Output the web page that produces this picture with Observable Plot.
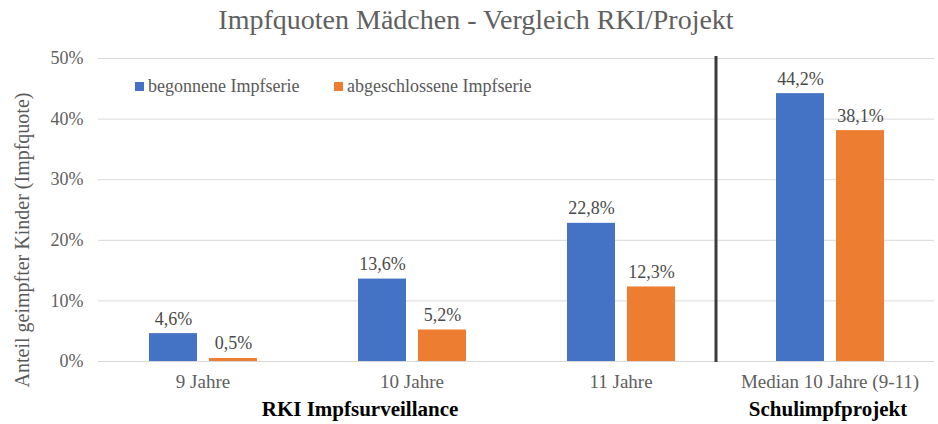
<!DOCTYPE html>
<html>
<head>
<meta charset="utf-8">
<script src="https://cdn.jsdelivr.net/npm/d3@7"></script>
<script src="https://cdn.jsdelivr.net/npm/@observablehq/plot@0.6"></script>
<style>
  html, body { margin: 0; padding: 0; background: #fff; }
  #wrap { position: relative; width: 938px; height: 424px; font-family: "Liberation Serif", "Times New Roman", serif; color: #595959; overflow: hidden; }
  #title { position: absolute; left: 0; top: 4px; width: 952px; text-align: center; font-size: 28px; color: #606060; white-space: nowrap; }
  #chart { position: absolute; left: 0; top: 40px; }
  #chart svg, #chart svg text { font-family: "Liberation Serif", "Times New Roman", serif !important; }
  .leg { position: absolute; top: 76px; font-size: 18px; color: #595959; white-space: nowrap; z-index: 2; }
  .sw { display: inline-block; width: 9px; height: 9px; margin-right: 4px; vertical-align: 1px; }
  .grp { position: absolute; top: 397px; font-size: 21px; font-weight: bold; color: #000; white-space: nowrap; transform: translateX(-50%); z-index: 2; }
  #ylab { position: absolute; left: -178px; top: 228px; width: 400px; height: 24px; line-height: 24px; text-align: center; font-size: 20px; color: #595959; white-space: nowrap; transform: rotate(-90deg); z-index: 2; }
</style>
</head>
<body>
<div id="wrap">
  <div id="title"></div>
  <div id="chart"></div>
  <div id="ylab"></div>
</div>
<script>
// ---- data ----
const categories = ["9 Jahre", "10 Jahre", "11 Jahre", "Median 10 Jahre (9-11)"];
const seriesNames = ["begonnene Impfserie", "abgeschlossene Impfserie"];
const begonnen = [4.6, 13.6, 22.8, 44.2];
const abgeschlossen = [0.5, 5.2, 12.3, 38.1];
const yTicks = [0, 10, 20, 30, 40, 50];
const groupLabels = ["RKI Impfsurveillance", "Schulimpfprojekt"];
const titleText = "Impfquoten Mädchen - Vergleich RKI/Projekt";
const yLabelText = "Anteil geimpfter Kinder (Impfquote)";
const colors = ["#4472C4", "#ED7D31"];

const rows = [];
categories.forEach((c, i) => {
  rows.push({cat: c, series: seriesNames[0], value: begonnen[i]});
  rows.push({cat: c, series: seriesNames[1], value: abgeschlossen[i]});
});
const fmt = v => v.toFixed(1).replace(".", ",") + "%";
const serif = "'Liberation Serif', 'Times New Roman', serif";

document.getElementById("title").textContent = titleText;
document.getElementById("ylab").textContent = yLabelText;

const chart = Plot.plot({
  width: 938,
  height: 384,
  marginTop: 18,
  marginBottom: 63,
  marginLeft: 97,
  marginRight: 4,
  style: {fontFamily: serif, color: "#595959", background: "#fff"},
  fx: {domain: categories, padding: 0},
  x: {domain: seriesNames, axis: null, paddingInner: 0.2, paddingOuter: 0.84},
  y: {domain: [0, 50]},
  color: {domain: seriesNames, range: colors},
  marks: [
    Plot.gridY(yTicks, {stroke: "#d9d9d9", strokeOpacity: 1, strokeWidth: 1}),
    Plot.axisY(yTicks, {tickSize: 0, tickPadding: 15, tickFormat: d => d + "%", fontSize: 18, fontFamily: serif, label: null, fill: "#606060"}),
    Plot.axisFx({anchor: "bottom", tickSize: 0, tickPadding: 13, fontSize: 19, fontFamily: serif, label: null, fill: "#606060"}),
    Plot.barY(rows, {fx: "cat", x: "series", y: "value", fill: "series"}),
    Plot.text(rows, {fx: "cat", x: "series", y: "value", text: d => fmt(d.value), lineAnchor: "bottom", dy: -9, fontSize: 18, fontFamily: serif, fill: "#4a4a4a"})
  ]
});
document.getElementById("chart").appendChild(chart);

// separator line between RKI and Projekt groups, placed via the fx scale
const fxs = chart.scale("fx");
const yS = chart.scale("y");
const sepX = fxs.apply(categories[3]) - 9;
d3.select(chart).append("line")
  .attr("x1", sepX).attr("x2", sepX)
  .attr("y1", yS.apply(50) - 2).attr("y2", yS.apply(0) + 1)
  .attr("stroke", "#3b3b3b").attr("stroke-width", 3);

// legend (inside plot area)
const wrap = document.getElementById("wrap");
const legLeft = [135, 334];
seriesNames.forEach((s, i) => {
  const d = document.createElement("div");
  d.className = "leg";
  d.style.left = legLeft[i] + "px";
  d.innerHTML = `<span class="sw" style="background:${colors[i]}"></span>${s}`;
  wrap.appendChild(d);
});

// group labels below category axis
const grpX = [360, 828];
groupLabels.forEach((g, i) => {
  const d = document.createElement("div");
  d.className = "grp";
  d.style.left = grpX[i] + "px";
  d.textContent = g;
  wrap.appendChild(d);
});
</script>
</body>
</html>
